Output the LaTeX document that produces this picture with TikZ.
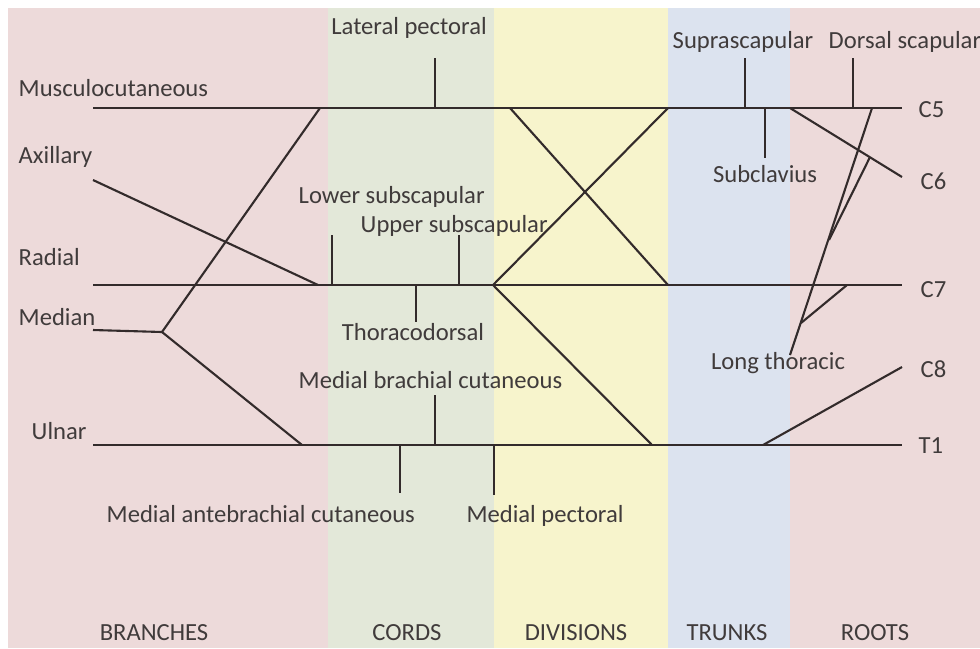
\documentclass[tikz,border=0pt]{standalone}
\usepackage{fontspec}
\setmainfont{Carlito}
\definecolor{pinkbg}{HTML}{EDDADA}
\definecolor{greenbg}{HTML}{E3E8D9}
\definecolor{yellowbg}{HTML}{F7F4CC}
\definecolor{bluebg}{HTML}{DCE3EF}
\definecolor{nerve}{HTML}{332B2B}
\definecolor{txt}{HTML}{403B3B}
\tikzset{
  lbl/.style={inner sep=0pt, text=txt, font=\fontsize{7}{8}\selectfont},
  nv/.style={draw=nerve, line width=0.6pt}
}
\begin{document}
\begin{tikzpicture}[x=0.01cm, y=-0.01cm]
      \useasboundingbox (0,0) rectangle (980,648);
      \fill[pinkbg] (8,8) rectangle (328,648);
      \fill[greenbg] (328,8) rectangle (494,648);
      \fill[yellowbg] (494,8) rectangle (668,648);
      \fill[bluebg] (668,8) rectangle (790,648);
      \fill[pinkbg] (790,8) rectangle (980,648);
      \path
        (93,108) coordinate (mcL)
        (320,108) coordinate (latJ)
        (510,108) coordinate (c5div)
        (668,108) coordinate (c5tr)
        (790,108) coordinate (ut)
        (872,108) coordinate (ltC5)
        (902,108) coordinate (c5R)
        (902,177) coordinate (c6R)
        (93,180) coordinate (axL)
        (93,285) coordinate (radL)
        (318,285) coordinate (radJ)
        (493,285) coordinate (postJ)
        (668,285) coordinate (c7tr)
        (902,285) coordinate (c7R)
        (93,330) coordinate (medL)
        (162,332) coordinate (medJ)
        (93,445) coordinate (ulL)
        (302,445) coordinate (ulJ)
        (652,445) coordinate (t1div)
        (763,445) coordinate (c8J)
        (902,445) coordinate (t1R)
        (902,367) coordinate (c8R)
        (435,58) coordinate (lpTop) (435,108) coordinate (lpBot)
        (745,58) coordinate (ssTop) (745,108) coordinate (ssBot)
        (765,108) coordinate (scTop) (765,158) coordinate (scBot)
        (853,58) coordinate (dsTop) (853,108) coordinate (dsBot)
        (332,235) coordinate (lsTop) (332,285) coordinate (lsBot)
        (459,235) coordinate (usTop) (459,285) coordinate (usBot)
        (416,285) coordinate (tdTop) (416,322) coordinate (tdBot)
        (435,395) coordinate (mbcTop) (435,445) coordinate (mbcBot)
        (400,445) coordinate (macTop) (400,493) coordinate (macBot)
        (494,445) coordinate (mpTop) (494,495) coordinate (mpBot)
        (790,355) coordinate (ltEnd)
        (870,157) coordinate (lt6) (829,240) coordinate (lt6J)
        (847,285) coordinate (lt7) (801,323) coordinate (lt7J);
      \path[lbl]
        (409,28) node (latpec){Lateral pectoral}
        (18,88) node[anchor=west] (musc){Musculocutaneous}
        (18,157) node[anchor=west] (axil){Axillary}
        (18,257) node[anchor=west] (rad){Radial}
        (18,317) node[anchor=west] (med){Median}
        (31,431) node[anchor=west] (uln){Ulnar}
        (298,197) node[anchor=west] (lowsub){Lower subscapular}
        (360,226) node[anchor=west] (upsub){Upper subscapular}
        (413,332) node (thdor){Thoracodorsal}
        (298,380) node[anchor=west] (medbrach){Medial brachial cutaneous}
        (106,514) node[anchor=west] (medante){Medial antebrachial cutaneous}
        (545,516) node (medpec){Medial pectoral}
        (743,42) node (supra){Suprascapular}
        (828,42) node[anchor=west] (dorsal){Dorsal scapular}
        (765,174) node (subcl){Subclavius}
        (778,363) node (longth){Long thoracic}
        (918,110) node[anchor=west] (C5){C5}
        (920,181) node[anchor=west] (C6){C6}
        (920,290) node[anchor=west] (C7){C7}
        (920,369) node[anchor=west] (C8){C8}
        (918,446) node[anchor=west] (T1){T1}
        (154,633) node (branches){BRANCHES}
        (407,633) node (cords){CORDS}
        (576,633) node (divs){DIVISIONS}
        (727,633) node (trunks){TRUNKS}
        (875,633) node (roots){ROOTS};
      \begin{scope}[nv]
        \draw (mcL) to (c5R);
        \draw (radL) to (c7R);
        \draw (ulL) to (t1R);
        \draw (latJ) to (medJ);
        \draw (medL) to (medJ);
        \draw (medJ) to (ulJ);
        \draw (axL) to (radJ);
        \draw (c5div) to (c7tr);
        \draw (c5tr) to (postJ);
        \draw (postJ) to (t1div);
        \draw (ut) to (c6R);
        \draw (c8J) to (c8R);
        \draw (ltC5) to (ltEnd);
        \draw (lt6) to (lt6J);
        \draw (lt7) to (lt7J);
        \draw (lpTop) to (lpBot);
        \draw (ssTop) to (ssBot);
        \draw (scTop) to (scBot);
        \draw (dsTop) to (dsBot);
        \draw (lsTop) to (lsBot);
        \draw (usTop) to (usBot);
        \draw (tdTop) to (tdBot);
        \draw (mbcTop) to (mbcBot);
        \draw (macTop) to (macBot);
        \draw (mpTop) to (mpBot);
      \end{scope}
    \end{tikzpicture}
\end{document}
